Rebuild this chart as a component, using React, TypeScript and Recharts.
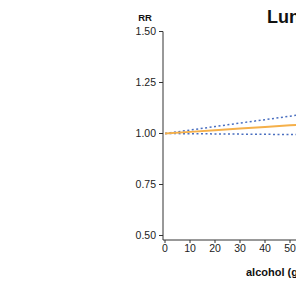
import { LineChart, Line, XAxis, YAxis } from "recharts";

const alcohol = [0, 10, 20, 30, 40, 50, 60, 70, 80, 90, 100];
const rr = [1.0, 1.008, 1.016, 1.024, 1.032, 1.04, 1.048, 1.057, 1.065, 1.074, 1.082];
const upper = [1.0, 1.017, 1.034, 1.051, 1.068, 1.085, 1.103, 1.121, 1.139, 1.158, 1.177];
const lower = [1.0, 0.999, 0.998, 0.997, 0.996, 0.995, 0.994, 0.993, 0.992, 0.991, 0.99];
const xTicks = [0, 10, 20, 30, 40, 50, 60, 70, 80, 90, 100];
const yTicks = [0.5, 0.75, 1.0, 1.25, 1.5];

const data = alcohol.map((a, i) => ({ a, rr: rr[i], upper: upper[i], lower: lower[i] }));

const tick = { fill: "#222", fontSize: 10.5, fontFamily: "Liberation Sans, Arial, sans-serif" };
const axisColor = "#333";

export default function App() {
  return (
    <div
      style={{
        position: "absolute",
        left: 0,
        top: 0,
        width: 296,
        height: 281,
        overflow: "hidden",
        background: "#fff",
        fontFamily: "Liberation Sans, Arial, sans-serif",
      }}
    >
      <div style={{ position: "absolute", left: 267, top: 7, fontSize: 18, fontWeight: "bold", color: "#111", whiteSpace: "nowrap" }}>
        Lung cancer
      </div>
      <div style={{ position: "absolute", left: 132, width: 26, textAlign: "center", top: 12, fontSize: 9.5, fontWeight: "bold", color: "#111" }}>
        RR
      </div>
      <div style={{ position: "absolute", left: 246, top: 266, fontSize: 11, fontWeight: "bold", color: "#111", whiteSpace: "nowrap" }}>
        alcohol (g/day)
      </div>
      <div style={{ position: "absolute", left: 0, top: 0 }}>
        <LineChart width={440} height={281} data={data} margin={{ top: 31.5, right: 25, bottom: 0, left: 0 }}>
          <XAxis
            dataKey="a"
            type="number"
            domain={[-0.8, 100]}
            ticks={xTicks}
            height={41}
            tick={tick}
            tickSize={3}
            tickMargin={2}
            axisLine={{ stroke: axisColor, strokeWidth: 1 }}
            tickLine={{ stroke: axisColor }}
          />
          <YAxis
            type="number"
            domain={[0.478, 1.5]}
            ticks={yTicks}
            width={163}
            tick={tick}
            tickSize={4}
            tickMargin={3}
            tickFormatter={(v: number) => v.toFixed(2)}
            axisLine={{ stroke: axisColor, strokeWidth: 1 }}
            tickLine={{ stroke: axisColor }}
            allowDataOverflow
          />
          <Line dataKey="upper" stroke="#4A6FC0" strokeWidth={1.5} strokeDasharray="2 2.5" dot={false} isAnimationActive={false} />
          <Line dataKey="lower" stroke="#4A6FC0" strokeWidth={1.5} strokeDasharray="2 2.5" dot={false} isAnimationActive={false} />
          <Line dataKey="rr" stroke="#F5B04A" strokeWidth={2} dot={false} isAnimationActive={false} />
        </LineChart>
      </div>
    </div>
  );
}
